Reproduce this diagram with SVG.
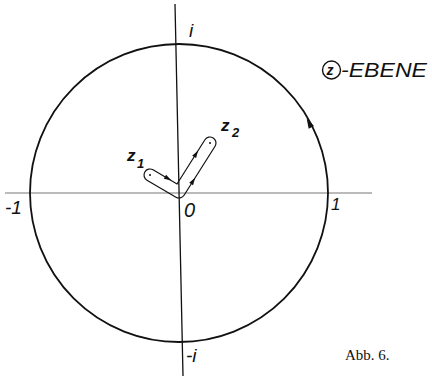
<svg xmlns="http://www.w3.org/2000/svg" width="432" height="376" viewBox="0 0 432 376">
<style>
.lab{font-family:"Liberation Sans",Arial,sans-serif;font-style:italic;fill:#111}
.ln{fill:none;stroke:#111}
.ah{fill:#111;stroke:none}
</style>
<defs>
<path id="arr" d="M4,0 L-3.5,-2.3 L-3.5,2.3 Z"/>
<path id="arrL" d="M5,0 L-5,-3 L-5,3 Z"/>
</defs>
<rect width="432" height="376" fill="#fff"/>
<g id="connectors">
<line id="axis-real" x1="5" y1="193" x2="372" y2="193" stroke="#777" stroke-width="1"/>
<line id="axis-imag" x1="175" y1="4" x2="183" y2="376" stroke="#111" stroke-width="1.3"/>
</g>
<g id="unit-circle">
<circle cx="179" cy="193" r="149" class="ln" stroke-width="1.8"/>
<use href="#arrL" class="ah" transform="translate(309,123) rotate(-118)"/>
</g>
<g id="keyhole-contour">
<path class="ln" stroke-width="1.2" d="M177,184 L204.93,139.79 A6,6 0 0 1 215.07,146.21 L184.07,195.21 A6,6 0 0 1 175.96,197.18 L146.96,180.18 A6,6 0 0 1 153.04,169.82 Z"/>
<circle cx="150" cy="175" r="1" fill="#111"/>
<circle cx="210" cy="143" r="1" fill="#111"/>
<use href="#arr" class="ah" transform="translate(168,178.6) rotate(30)"/>
<use href="#arr" class="ah" transform="translate(196,153.9) rotate(-58)"/>
<use href="#arr" class="ah" transform="translate(193,181.1) rotate(-58)"/>
</g>
<g id="labels">
<text class="lab" x="189" y="37" font-size="19">i</text>
<text class="lab" x="186" y="362" font-size="19">-i</text>
<text class="lab" x="5" y="214" font-size="19">-1</text>
<text class="lab" x="331" y="210" font-size="17">1</text>
<text class="lab" x="184" y="217" font-size="20">0</text>
<text class="lab" x="127" y="161" font-size="17" font-weight="bold">z</text>
<text class="lab" x="137" y="168" font-size="13" font-weight="bold">1</text>
<text class="lab" x="221" y="131" font-size="17" font-weight="bold">z</text>
<text class="lab" x="232" y="137" font-size="13" font-weight="bold">2</text>
</g>
<g id="plane-label">
<circle cx="331.5" cy="70" r="9" class="ln" stroke-width="1.4"/>
<text class="lab" x="326.5" y="75" font-size="14" font-style="normal" font-weight="bold">z</text>
<text class="lab" x="341" y="77" font-size="21" textLength="86" lengthAdjust="spacingAndGlyphs">-EBENE</text>
</g>
<g id="caption">
<text x="345" y="360" font-family="'Liberation Serif','Times New Roman',serif" font-size="15" fill="#111">Abb. 6.</text>
</g>
</svg>
